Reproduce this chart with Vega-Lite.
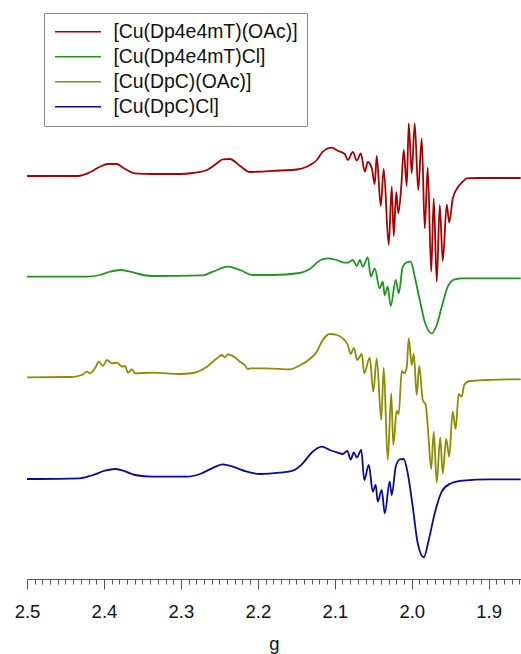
{
 "$schema": "https://vega.github.io/schema/vega-lite/v6.json",
 "width": 494, "height": 579,
 "autosize": {"type": "none"},
 "padding": {"left": 27, "right": 0, "top": 0, "bottom": 75},
 "background": "white",
 "config": {"view": {"stroke": null}, "font": "Liberation Sans"},
 "data": {"values": [
  {"c":"[Cu(Dp4e4mT)(OAc)]","g":2.5000,"v":403},
  {"c":"[Cu(Dp4e4mT)(OAc)]","g":2.4338,"v":403},
  {"c":"[Cu(Dp4e4mT)(OAc)]","g":2.4182,"v":406.7},
  {"c":"[Cu(Dp4e4mT)(OAc)]","g":2.4052,"v":412.3},
  {"c":"[Cu(Dp4e4mT)(OAc)]","g":2.3948,"v":415},
  {"c":"[Cu(Dp4e4mT)(OAc)]","g":2.3831,"v":415},
  {"c":"[Cu(Dp4e4mT)(OAc)]","g":2.3766,"v":412},
  {"c":"[Cu(Dp4e4mT)(OAc)]","g":2.3701,"v":409},
  {"c":"[Cu(Dp4e4mT)(OAc)]","g":2.3597,"v":405.7},
  {"c":"[Cu(Dp4e4mT)(OAc)]","g":2.3364,"v":405},
  {"c":"[Cu(Dp4e4mT)(OAc)]","g":2.3013,"v":405},
  {"c":"[Cu(Dp4e4mT)(OAc)]","g":2.2844,"v":406},
  {"c":"[Cu(Dp4e4mT)(OAc)]","g":2.2662,"v":409},
  {"c":"[Cu(Dp4e4mT)(OAc)]","g":2.2532,"v":415.7},
  {"c":"[Cu(Dp4e4mT)(OAc)]","g":2.2455,"v":419.7},
  {"c":"[Cu(Dp4e4mT)(OAc)]","g":2.2364,"v":420},
  {"c":"[Cu(Dp4e4mT)(OAc)]","g":2.2234,"v":413.3},
  {"c":"[Cu(Dp4e4mT)(OAc)]","g":2.2104,"v":407},
  {"c":"[Cu(Dp4e4mT)(OAc)]","g":2.1974,"v":407.3},
  {"c":"[Cu(Dp4e4mT)(OAc)]","g":2.1714,"v":408.5},
  {"c":"[Cu(Dp4e4mT)(OAc)]","g":2.1494,"v":409.5},
  {"c":"[Cu(Dp4e4mT)(OAc)]","g":2.1364,"v":412.3},
  {"c":"[Cu(Dp4e4mT)(OAc)]","g":2.1286,"v":415.7},
  {"c":"[Cu(Dp4e4mT)(OAc)]","g":2.1234,"v":419},
  {"c":"[Cu(Dp4e4mT)(OAc)]","g":2.1156,"v":427.3},
  {"c":"[Cu(Dp4e4mT)(OAc)]","g":2.1039,"v":431.3},
  {"c":"[Cu(Dp4e4mT)(OAc)]","g":2.0961,"v":428.3},
  {"c":"[Cu(Dp4e4mT)(OAc)]","g":2.0870,"v":425},
  {"c":"[Cu(Dp4e4mT)(OAc)]","g":2.0831,"v":419},
  {"c":"[Cu(Dp4e4mT)(OAc)]","g":2.0766,"v":427},
  {"c":"[Cu(Dp4e4mT)(OAc)]","g":2.0714,"v":418.5},
  {"c":"[Cu(Dp4e4mT)(OAc)]","g":2.0662,"v":425.5},
  {"c":"[Cu(Dp4e4mT)(OAc)]","g":2.0610,"v":407.3},
  {"c":"[Cu(Dp4e4mT)(OAc)]","g":2.0571,"v":417},
  {"c":"[Cu(Dp4e4mT)(OAc)]","g":2.0519,"v":410.7},
  {"c":"[Cu(Dp4e4mT)(OAc)]","g":2.0481,"v":395},
  {"c":"[Cu(Dp4e4mT)(OAc)]","g":2.0455,"v":423},
  {"c":"[Cu(Dp4e4mT)(OAc)]","g":2.0403,"v":373},
  {"c":"[Cu(Dp4e4mT)(OAc)]","g":2.0364,"v":410},
  {"c":"[Cu(Dp4e4mT)(OAc)]","g":2.0299,"v":334},
  {"c":"[Cu(Dp4e4mT)(OAc)]","g":2.0260,"v":392.3},
  {"c":"[Cu(Dp4e4mT)(OAc)]","g":2.0234,"v":343},
  {"c":"[Cu(Dp4e4mT)(OAc)]","g":2.0201,"v":387},
  {"c":"[Cu(Dp4e4mT)(OAc)]","g":2.0175,"v":365.7},
  {"c":"[Cu(Dp4e4mT)(OAc)]","g":2.0136,"v":392.3},
  {"c":"[Cu(Dp4e4mT)(OAc)]","g":2.0104,"v":429},
  {"c":"[Cu(Dp4e4mT)(OAc)]","g":2.0065,"v":393},
  {"c":"[Cu(Dp4e4mT)(OAc)]","g":2.0039,"v":455.7},
  {"c":"[Cu(Dp4e4mT)(OAc)]","g":2.0000,"v":405.7},
  {"c":"[Cu(Dp4e4mT)(OAc)]","g":1.9961,"v":455.7},
  {"c":"[Cu(Dp4e4mT)(OAc)]","g":1.9916,"v":389},
  {"c":"[Cu(Dp4e4mT)(OAc)]","g":1.9870,"v":440.7},
  {"c":"[Cu(Dp4e4mT)(OAc)]","g":1.9831,"v":350.7},
  {"c":"[Cu(Dp4e4mT)(OAc)]","g":1.9792,"v":411.5},
  {"c":"[Cu(Dp4e4mT)(OAc)]","g":1.9747,"v":307.3},
  {"c":"[Cu(Dp4e4mT)(OAc)]","g":1.9714,"v":380.7},
  {"c":"[Cu(Dp4e4mT)(OAc)]","g":1.9675,"v":297.3},
  {"c":"[Cu(Dp4e4mT)(OAc)]","g":1.9636,"v":374},
  {"c":"[Cu(Dp4e4mT)(OAc)]","g":1.9597,"v":318},
  {"c":"[Cu(Dp4e4mT)(OAc)]","g":1.9545,"v":374.3},
  {"c":"[Cu(Dp4e4mT)(OAc)]","g":1.9513,"v":356.5},
  {"c":"[Cu(Dp4e4mT)(OAc)]","g":1.9468,"v":380},
  {"c":"[Cu(Dp4e4mT)(OAc)]","g":1.9403,"v":391.5},
  {"c":"[Cu(Dp4e4mT)(OAc)]","g":1.9338,"v":397.3},
  {"c":"[Cu(Dp4e4mT)(OAc)]","g":1.9286,"v":400.7},
  {"c":"[Cu(Dp4e4mT)(OAc)]","g":1.9247,"v":400.8},
  {"c":"[Cu(Dp4e4mT)(OAc)]","g":1.9117,"v":401},
  {"c":"[Cu(Dp4e4mT)(OAc)]","g":1.8584,"v":401},

  {"c":"[Cu(Dp4e4mT)Cl]","g":2.5000,"v":302.3},
  {"c":"[Cu(Dp4e4mT)Cl]","g":2.4221,"v":302.3},
  {"c":"[Cu(Dp4e4mT)Cl]","g":2.4052,"v":304},
  {"c":"[Cu(Dp4e4mT)Cl]","g":2.3922,"v":307.3},
  {"c":"[Cu(Dp4e4mT)Cl]","g":2.3792,"v":309},
  {"c":"[Cu(Dp4e4mT)Cl]","g":2.3662,"v":307.3},
  {"c":"[Cu(Dp4e4mT)Cl]","g":2.3494,"v":304},
  {"c":"[Cu(Dp4e4mT)Cl]","g":2.3364,"v":303},
  {"c":"[Cu(Dp4e4mT)Cl]","g":2.2714,"v":303.7},
  {"c":"[Cu(Dp4e4mT)Cl]","g":2.2584,"v":307.3},
  {"c":"[Cu(Dp4e4mT)Cl]","g":2.2390,"v":312.3},
  {"c":"[Cu(Dp4e4mT)Cl]","g":2.2234,"v":309},
  {"c":"[Cu(Dp4e4mT)Cl]","g":2.2065,"v":304},
  {"c":"[Cu(Dp4e4mT)Cl]","g":2.1805,"v":304},
  {"c":"[Cu(Dp4e4mT)Cl]","g":2.1455,"v":306},
  {"c":"[Cu(Dp4e4mT)Cl]","g":2.1325,"v":310},
  {"c":"[Cu(Dp4e4mT)Cl]","g":2.1195,"v":318.5},
  {"c":"[Cu(Dp4e4mT)Cl]","g":2.1091,"v":320.7},
  {"c":"[Cu(Dp4e4mT)Cl]","g":2.0974,"v":319},
  {"c":"[Cu(Dp4e4mT)Cl]","g":2.0896,"v":316.7},
  {"c":"[Cu(Dp4e4mT)Cl]","g":2.0831,"v":316.3},
  {"c":"[Cu(Dp4e4mT)Cl]","g":2.0766,"v":319},
  {"c":"[Cu(Dp4e4mT)Cl]","g":2.0714,"v":313},
  {"c":"[Cu(Dp4e4mT)Cl]","g":2.0675,"v":319},
  {"c":"[Cu(Dp4e4mT)Cl]","g":2.0636,"v":312.3},
  {"c":"[Cu(Dp4e4mT)Cl]","g":2.0571,"v":321.7},
  {"c":"[Cu(Dp4e4mT)Cl]","g":2.0532,"v":302.3},
  {"c":"[Cu(Dp4e4mT)Cl]","g":2.0481,"v":310.7},
  {"c":"[Cu(Dp4e4mT)Cl]","g":2.0416,"v":290.7},
  {"c":"[Cu(Dp4e4mT)Cl]","g":2.0377,"v":297.3},
  {"c":"[Cu(Dp4e4mT)Cl]","g":2.0351,"v":284},
  {"c":"[Cu(Dp4e4mT)Cl]","g":2.0312,"v":292.3},
  {"c":"[Cu(Dp4e4mT)Cl]","g":2.0273,"v":273},
  {"c":"[Cu(Dp4e4mT)Cl]","g":2.0208,"v":299},
  {"c":"[Cu(Dp4e4mT)Cl]","g":2.0169,"v":285.7},
  {"c":"[Cu(Dp4e4mT)Cl]","g":2.0117,"v":312.3},
  {"c":"[Cu(Dp4e4mT)Cl]","g":2.0065,"v":316.7},
  {"c":"[Cu(Dp4e4mT)Cl]","g":2.0013,"v":317.3},
  {"c":"[Cu(Dp4e4mT)Cl]","g":1.9961,"v":302.3},
  {"c":"[Cu(Dp4e4mT)Cl]","g":1.9896,"v":279},
  {"c":"[Cu(Dp4e4mT)Cl]","g":1.9831,"v":257.3},
  {"c":"[Cu(Dp4e4mT)Cl]","g":1.9740,"v":245.7},
  {"c":"[Cu(Dp4e4mT)Cl]","g":1.9675,"v":254},
  {"c":"[Cu(Dp4e4mT)Cl]","g":1.9610,"v":272.3},
  {"c":"[Cu(Dp4e4mT)Cl]","g":1.9532,"v":292.3},
  {"c":"[Cu(Dp4e4mT)Cl]","g":1.9442,"v":299.7},
  {"c":"[Cu(Dp4e4mT)Cl]","g":1.9338,"v":300.7},
  {"c":"[Cu(Dp4e4mT)Cl]","g":1.8584,"v":300.7},

  {"c":"[Cu(DpC)(OAc)]","g":2.5000,"v":201.7},
  {"c":"[Cu(DpC)(OAc)]","g":2.4442,"v":202},
  {"c":"[Cu(DpC)(OAc)]","g":2.4286,"v":204},
  {"c":"[Cu(DpC)(OAc)]","g":2.4221,"v":207.3},
  {"c":"[Cu(DpC)(OAc)]","g":2.4182,"v":205.7},
  {"c":"[Cu(DpC)(OAc)]","g":2.4117,"v":210.7},
  {"c":"[Cu(DpC)(OAc)]","g":2.4065,"v":217.3},
  {"c":"[Cu(DpC)(OAc)]","g":2.4013,"v":213},
  {"c":"[Cu(DpC)(OAc)]","g":2.3961,"v":219},
  {"c":"[Cu(DpC)(OAc)]","g":2.3896,"v":215.7},
  {"c":"[Cu(DpC)(OAc)]","g":2.3831,"v":216.3},
  {"c":"[Cu(DpC)(OAc)]","g":2.3766,"v":212.3},
  {"c":"[Cu(DpC)(OAc)]","g":2.3727,"v":213},
  {"c":"[Cu(DpC)(OAc)]","g":2.3688,"v":206.3},
  {"c":"[Cu(DpC)(OAc)]","g":2.3636,"v":209.7},
  {"c":"[Cu(DpC)(OAc)]","g":2.3597,"v":205.7},
  {"c":"[Cu(DpC)(OAc)]","g":2.3364,"v":206.3},
  {"c":"[Cu(DpC)(OAc)]","g":2.3013,"v":205},
  {"c":"[Cu(DpC)(OAc)]","g":2.2844,"v":206},
  {"c":"[Cu(DpC)(OAc)]","g":2.2662,"v":212.3},
  {"c":"[Cu(DpC)(OAc)]","g":2.2532,"v":220.7},
  {"c":"[Cu(DpC)(OAc)]","g":2.2468,"v":224},
  {"c":"[Cu(DpC)(OAc)]","g":2.2429,"v":221.7},
  {"c":"[Cu(DpC)(OAc)]","g":2.2390,"v":224.7},
  {"c":"[Cu(DpC)(OAc)]","g":2.2299,"v":221.7},
  {"c":"[Cu(DpC)(OAc)]","g":2.2234,"v":217.3},
  {"c":"[Cu(DpC)(OAc)]","g":2.2169,"v":214},
  {"c":"[Cu(DpC)(OAc)]","g":2.2130,"v":209.7},
  {"c":"[Cu(DpC)(OAc)]","g":2.2104,"v":210.7},
  {"c":"[Cu(DpC)(OAc)]","g":2.1883,"v":210.7},
  {"c":"[Cu(DpC)(OAc)]","g":2.1584,"v":209.7},
  {"c":"[Cu(DpC)(OAc)]","g":2.1455,"v":213.5},
  {"c":"[Cu(DpC)(OAc)]","g":2.1325,"v":220},
  {"c":"[Cu(DpC)(OAc)]","g":2.1234,"v":227.3},
  {"c":"[Cu(DpC)(OAc)]","g":2.1156,"v":239},
  {"c":"[Cu(DpC)(OAc)]","g":2.1065,"v":245},
  {"c":"[Cu(DpC)(OAc)]","g":2.0974,"v":244},
  {"c":"[Cu(DpC)(OAc)]","g":2.0896,"v":240.7},
  {"c":"[Cu(DpC)(OAc)]","g":2.0831,"v":234},
  {"c":"[Cu(DpC)(OAc)]","g":2.0792,"v":225},
  {"c":"[Cu(DpC)(OAc)]","g":2.0753,"v":231},
  {"c":"[Cu(DpC)(OAc)]","g":2.0708,"v":219},
  {"c":"[Cu(DpC)(OAc)]","g":2.0649,"v":225},
  {"c":"[Cu(DpC)(OAc)]","g":2.0617,"v":205.7},
  {"c":"[Cu(DpC)(OAc)]","g":2.0545,"v":221.3},
  {"c":"[Cu(DpC)(OAc)]","g":2.0500,"v":187.3},
  {"c":"[Cu(DpC)(OAc)]","g":2.0455,"v":220.7},
  {"c":"[Cu(DpC)(OAc)]","g":2.0396,"v":159},
  {"c":"[Cu(DpC)(OAc)]","g":2.0364,"v":211},
  {"c":"[Cu(DpC)(OAc)]","g":2.0312,"v":119},
  {"c":"[Cu(DpC)(OAc)]","g":2.0266,"v":185.7},
  {"c":"[Cu(DpC)(OAc)]","g":2.0240,"v":134},
  {"c":"[Cu(DpC)(OAc)]","g":2.0195,"v":168},
  {"c":"[Cu(DpC)(OAc)]","g":2.0169,"v":165},
  {"c":"[Cu(DpC)(OAc)]","g":2.0130,"v":208},
  {"c":"[Cu(DpC)(OAc)]","g":2.0097,"v":205.7},
  {"c":"[Cu(DpC)(OAc)]","g":2.0065,"v":211.5},
  {"c":"[Cu(DpC)(OAc)]","g":2.0039,"v":240.7},
  {"c":"[Cu(DpC)(OAc)]","g":2.0000,"v":214},
  {"c":"[Cu(DpC)(OAc)]","g":1.9974,"v":225},
  {"c":"[Cu(DpC)(OAc)]","g":1.9935,"v":184},
  {"c":"[Cu(DpC)(OAc)]","g":1.9903,"v":213},
  {"c":"[Cu(DpC)(OAc)]","g":1.9857,"v":179},
  {"c":"[Cu(DpC)(OAc)]","g":1.9818,"v":174},
  {"c":"[Cu(DpC)(OAc)]","g":1.9792,"v":153},
  {"c":"[Cu(DpC)(OAc)]","g":1.9747,"v":110},
  {"c":"[Cu(DpC)(OAc)]","g":1.9714,"v":147.3},
  {"c":"[Cu(DpC)(OAc)]","g":1.9675,"v":96.5},
  {"c":"[Cu(DpC)(OAc)]","g":1.9630,"v":141.5},
  {"c":"[Cu(DpC)(OAc)]","g":1.9597,"v":105.7},
  {"c":"[Cu(DpC)(OAc)]","g":1.9552,"v":140},
  {"c":"[Cu(DpC)(OAc)]","g":1.9513,"v":122.3},
  {"c":"[Cu(DpC)(OAc)]","g":1.9468,"v":167.3},
  {"c":"[Cu(DpC)(OAc)]","g":1.9429,"v":150},
  {"c":"[Cu(DpC)(OAc)]","g":1.9390,"v":185},
  {"c":"[Cu(DpC)(OAc)]","g":1.9351,"v":182.3},
  {"c":"[Cu(DpC)(OAc)]","g":1.9318,"v":194},
  {"c":"[Cu(DpC)(OAc)]","g":1.9247,"v":198},
  {"c":"[Cu(DpC)(OAc)]","g":1.9026,"v":199},
  {"c":"[Cu(DpC)(OAc)]","g":1.8584,"v":199.7},

  {"c":"[Cu(DpC)Cl]","g":2.5000,"v":100},
  {"c":"[Cu(DpC)Cl]","g":2.4312,"v":100.7},
  {"c":"[Cu(DpC)Cl]","g":2.4143,"v":104},
  {"c":"[Cu(DpC)Cl]","g":2.3987,"v":108.3},
  {"c":"[Cu(DpC)Cl]","g":2.3857,"v":110},
  {"c":"[Cu(DpC)Cl]","g":2.3753,"v":108.3},
  {"c":"[Cu(DpC)Cl]","g":2.3597,"v":104},
  {"c":"[Cu(DpC)Cl]","g":2.3364,"v":102.3},
  {"c":"[Cu(DpC)Cl]","g":2.2922,"v":102.3},
  {"c":"[Cu(DpC)Cl]","g":2.2753,"v":105},
  {"c":"[Cu(DpC)Cl]","g":2.2597,"v":110.7},
  {"c":"[Cu(DpC)Cl]","g":2.2455,"v":114.7},
  {"c":"[Cu(DpC)Cl]","g":2.2325,"v":112.3},
  {"c":"[Cu(DpC)Cl]","g":2.2143,"v":107.3},
  {"c":"[Cu(DpC)Cl]","g":2.1974,"v":105},
  {"c":"[Cu(DpC)Cl]","g":2.1714,"v":106.3},
  {"c":"[Cu(DpC)Cl]","g":2.1545,"v":108.3},
  {"c":"[Cu(DpC)Cl]","g":2.1416,"v":115.7},
  {"c":"[Cu(DpC)Cl]","g":2.1299,"v":126.5},
  {"c":"[Cu(DpC)Cl]","g":2.1169,"v":132.3},
  {"c":"[Cu(DpC)Cl]","g":2.1065,"v":129},
  {"c":"[Cu(DpC)Cl]","g":2.0961,"v":126.3},
  {"c":"[Cu(DpC)Cl]","g":2.0896,"v":125},
  {"c":"[Cu(DpC)Cl]","g":2.0838,"v":128.2},
  {"c":"[Cu(DpC)Cl]","g":2.0792,"v":119.5},
  {"c":"[Cu(DpC)Cl]","g":2.0753,"v":126.5},
  {"c":"[Cu(DpC)Cl]","g":2.0714,"v":121.5},
  {"c":"[Cu(DpC)Cl]","g":2.0656,"v":129},
  {"c":"[Cu(DpC)Cl]","g":2.0617,"v":99},
  {"c":"[Cu(DpC)Cl]","g":2.0558,"v":114},
  {"c":"[Cu(DpC)Cl]","g":2.0506,"v":87.3},
  {"c":"[Cu(DpC)Cl]","g":2.0468,"v":94},
  {"c":"[Cu(DpC)Cl]","g":2.0442,"v":77.3},
  {"c":"[Cu(DpC)Cl]","g":2.0390,"v":89},
  {"c":"[Cu(DpC)Cl]","g":2.0351,"v":65.7},
  {"c":"[Cu(DpC)Cl]","g":2.0286,"v":97.3},
  {"c":"[Cu(DpC)Cl]","g":2.0260,"v":84},
  {"c":"[Cu(DpC)Cl]","g":2.0208,"v":112.3},
  {"c":"[Cu(DpC)Cl]","g":2.0156,"v":119.7},
  {"c":"[Cu(DpC)Cl]","g":2.0104,"v":120},
  {"c":"[Cu(DpC)Cl]","g":2.0052,"v":105.7},
  {"c":"[Cu(DpC)Cl]","g":1.9987,"v":72.3},
  {"c":"[Cu(DpC)Cl]","g":1.9922,"v":35.7},
  {"c":"[Cu(DpC)Cl]","g":1.9844,"v":21.7},
  {"c":"[Cu(DpC)Cl]","g":1.9779,"v":39},
  {"c":"[Cu(DpC)Cl]","g":1.9701,"v":65.7},
  {"c":"[Cu(DpC)Cl]","g":1.9610,"v":87.3},
  {"c":"[Cu(DpC)Cl]","g":1.9506,"v":95},
  {"c":"[Cu(DpC)Cl]","g":1.9338,"v":98.3},
  {"c":"[Cu(DpC)Cl]","g":1.8987,"v":99.7},
  {"c":"[Cu(DpC)Cl]","g":1.8584,"v":99.7}
 ]},
 "mark": {"type": "line", "interpolate": "monotone", "strokeWidth": 1.8},
 "encoding": {
  "x": {"field": "g", "type": "quantitative",
   "scale": {"domain": [1.858, 2.5], "reverse": true, "nice": false, "zero": false},
   "axis": {"title": "g",
    "values": [1.86,1.87,1.88,1.89,1.9,1.91,1.92,1.93,1.94,1.95,1.96,1.97,1.98,1.99,2.0,2.01,2.02,2.03,2.04,2.05,2.06,2.07,2.08,2.09,2.1,2.11,2.12,2.13,2.14,2.15,2.16,2.17,2.18,2.19,2.2,2.21,2.22,2.23,2.24,2.25,2.26,2.27,2.28,2.29,2.3,2.31,2.32,2.33,2.34,2.35,2.36,2.37,2.38,2.39,2.4,2.41,2.42,2.43,2.44,2.45,2.46,2.47,2.48,2.49,2.5],
    "labelExpr": "abs(datum.value*10 - round(datum.value*10)) < 0.001 ? format(datum.value, '.1f') : ''",
    "tickSize": {"condition": {"test": "abs(datum.value*10 - round(datum.value*10)) < 0.001", "value": 10}, "value": 5},
    "labelFontSize": 18.5, "labelColor": "#111", "labelOverlap": false, "labelFlush": false, "labelPadding": 13,
    "titleFontSize": 18.5, "titleFontWeight": "normal", "titleColor": "#111", "titlePadding": 14,
    "domainColor": "#555", "tickColor": "#555", "grid": false, "tickWidth": 1, "domainWidth": 1}},
  "y": {"field": "v", "type": "quantitative", "scale": {"domain": [0, 579], "nice": false}, "axis": null},
  "color": {"field": "c", "type": "nominal",
   "scale": {"domain": ["[Cu(Dp4e4mT)(OAc)]", "[Cu(Dp4e4mT)Cl]", "[Cu(DpC)(OAc)]", "[Cu(DpC)Cl]"],
             "range": ["#A80000", "#1E961E", "#8C8C00", "#0A0A96"]},
   "legend": {"title": null, "orient": "none", "legendX": 17, "legendY": 13,
    "strokeColor": "#888", "fillColor": "white", "padding": 9,
    "symbolType": "M-1,0L5,0", "symbolSize": 235, "symbolStrokeWidth": 1.5,
    "labelFontSize": 19.4, "labelOffset": 41, "rowPadding": 4, "labelLimit": 400, "labelColor": "#111"}}
 }
}
